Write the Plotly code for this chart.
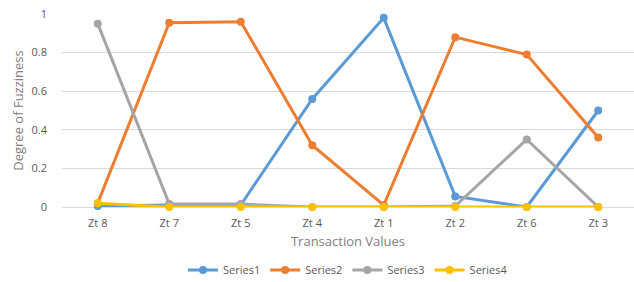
import plotly.graph_objects as go

categories = ["Zt 8", "Zt 7", "Zt 5", "Zt 4", "Zt 1", "Zt 2", "Zt 6", "Zt 3"]
series1 = [0.005, 0.01, 0.01, 0.56, 0.98, 0.055, 0.0, 0.50]
series2 = [0.02, 0.955, 0.96, 0.32, 0.01, 0.88, 0.79, 0.36]
series3 = [0.95, 0.015, 0.015, 0.0, 0.0, 0.005, 0.35, 0.0]
series4 = [0.02, 0.0, 0.0, 0.0, 0.0, 0.0, 0.0, 0.0]
y_ticks = [0, 0.2, 0.4, 0.6, 0.8, 1]
y_tick_labels = ["0", "0.2", "0.4", "0.6", "0.8", "1"]

names = ["Series1", "Series2", "Series3", "Series4"]
colors = ["#5B9BD5", "#ED7D31", "#A5A5A5", "#FFC000"]

fig = go.Figure()
for name, vals, col in zip(names, [series1, series2, series3, series4], colors):
    fig.add_trace(go.Scatter(
        x=categories, y=vals, name=name, mode="lines+markers",
        line=dict(color=col, width=3),
        marker=dict(color=col, size=8),
        cliponaxis=False,
    ))

font = "Open Sans, Liberation Sans, sans-serif"
fig.update_layout(
    width=634, height=282,
    margin=dict(l=62, r=0, t=14, b=75, autoexpand=False),
    paper_bgcolor="white", plot_bgcolor="white",
    font=dict(family=font, size=11, color="#595959"),
    showlegend=True,
    legend=dict(orientation="h", x=0.5, xanchor="center", y=-0.326, yanchor="middle",
                font=dict(size=11, color="#595959"), tracegroupgap=0),
    xaxis=dict(
        type="category", range=[-0.5, 7.5], showgrid=False, showline=False, zeroline=False,
        ticks="", tickfont=dict(size=11, color="#595959"), ticklabelstandoff=8,
        automargin=False,
        title=dict(text="Transaction Values", font=dict(size=13, color="#808080"), standoff=7),
    ),
    yaxis=dict(
        range=[0, 1], tickvals=y_ticks, ticktext=y_tick_labels,
        showgrid=True, gridcolor="#D9D9D9", gridwidth=1,
        zeroline=True, zerolinecolor="#D9D9D9", zerolinewidth=1,
        showline=False, ticks="", ticklabelstandoff=14, automargin=False,
        tickfont=dict(size=11, color="#595959"),
        title=dict(text="Degree of Fuzziness", font=dict(size=13, color="#808080"), standoff=4),
    ),
)

fig.write_html("out.html", config={"displayModeBar": False},
               post_script="document.body.style.margin='0';")
